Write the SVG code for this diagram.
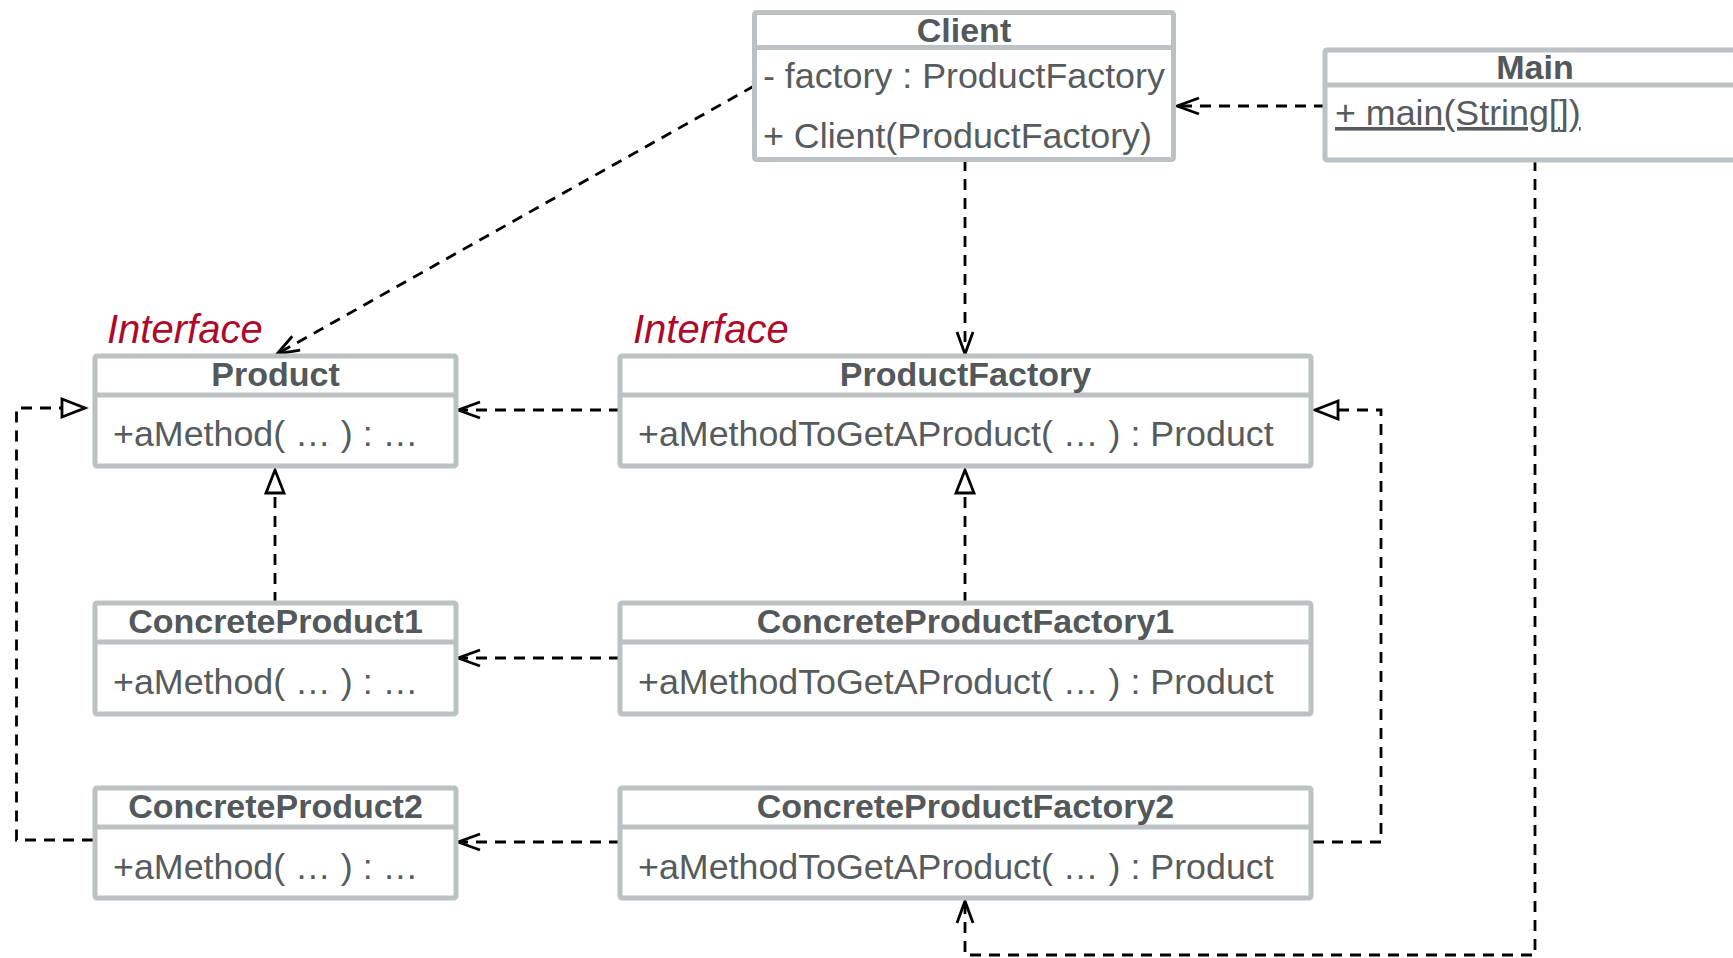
<svg xmlns="http://www.w3.org/2000/svg" width="1733" height="958" viewBox="0 0 1733 958">
<style>
.box{fill:#fff;stroke:#BCC1C3;stroke-width:5}
.div{stroke:#BCC1C3;stroke-width:5}
.name{font-family:"Liberation Sans",Arial,sans-serif;font-weight:bold;font-size:34px;fill:#53585A;text-anchor:middle}
.mem{font-family:"Liberation Sans",Arial,sans-serif;font-size:35.8px;fill:#565B5D}
.iface{font-family:"Liberation Sans",Arial,sans-serif;font-style:italic;font-size:40px;fill:#AD0A2B}
.con{fill:none;stroke:#000;stroke-width:2.8;stroke-dasharray:11 8}
</style>
<defs>
<marker id="open" markerUnits="userSpaceOnUse" viewBox="-26 -12 30 24" refX="0" refY="0" markerWidth="30" markerHeight="24" orient="auto">
<path d="M -22 -8 L 0 0 L -22 8" fill="none" stroke="#000" stroke-width="2.8"/>
</marker>
<marker id="tri" markerUnits="userSpaceOnUse" viewBox="-26 -12 30 24" refX="0" refY="0" markerWidth="30" markerHeight="24" orient="auto">
<path d="M -23 -9 L 0 0 L -23 9 Z" fill="#fff" stroke="#000" stroke-width="2.8"/>
</marker>
</defs>

<g id="connectors">
<path class="con" d="M 754 86 L 277 354" marker-end="url(#open)"/>
<path class="con" d="M 1325 106 L 1177 106" marker-end="url(#open)"/>
<path class="con" d="M 965 160 L 965 354" marker-end="url(#open)"/>
<path class="con" d="M 620 410 L 458 410" marker-end="url(#open)"/>
<path class="con" d="M 620 658 L 458 658" marker-end="url(#open)"/>
<path class="con" d="M 620 842 L 458 842" marker-end="url(#open)"/>
<path class="con" d="M 275 603 L 275 470" marker-end="url(#tri)"/>
<path class="con" d="M 965 603 L 965 470" marker-end="url(#tri)"/>
<path class="con" d="M 93 840 L 16.5 840 L 16.5 408 L 85 408" marker-end="url(#tri)"/>
<path class="con" d="M 1313 842 L 1381 842 L 1381 410 L 1315 410" marker-end="url(#tri)"/>
<path class="con" d="M 1535 160 L 1535 955 L 965 955 L 965 901" marker-end="url(#open)"/>
</g>

<g id="client">
<rect class="box" x="754.5" y="12.5" width="419" height="147" rx="2"/>
<line class="div" x1="754.5" y1="47.5" x2="1173.5" y2="47.5"/>
<text class="name" x="964" y="42">Client</text>
<text class="mem" x="763" y="88">- factory : ProductFactory</text>
<text class="mem" x="763" y="148">+ Client(ProductFactory)</text>
</g>

<g id="main">
<rect class="box" x="1325" y="50" width="420" height="110" rx="2"/>
<line class="div" x1="1325" y1="85" x2="1745" y2="85"/>
<text class="name" x="1535" y="79">Main</text>
<text class="mem" x="1335" y="125" text-decoration="underline">+ main(String[])</text>
</g>

<g id="product">
<text class="iface" x="107" y="343">Interface</text>
<rect class="box" x="95" y="356" width="361" height="110" rx="2"/>
<line class="div" x1="95" y1="395" x2="456" y2="395"/>
<text class="name" x="275.5" y="386">Product</text>
<text class="mem" x="113" y="446">+aMethod( … ) : …</text>
</g>

<g id="productfactory">
<text class="iface" x="633" y="343">Interface</text>
<rect class="box" x="620" y="356" width="691" height="110" rx="2"/>
<line class="div" x1="620" y1="395" x2="1311" y2="395"/>
<text class="name" x="965.5" y="386">ProductFactory</text>
<text class="mem" x="638" y="446">+aMethodToGetAProduct( … ) : Product</text>
</g>

<g id="concreteproduct1">
<rect class="box" x="95" y="603" width="361" height="111" rx="2"/>
<line class="div" x1="95" y1="642" x2="456" y2="642"/>
<text class="name" x="275.5" y="633">ConcreteProduct1</text>
<text class="mem" x="113" y="694">+aMethod( … ) : …</text>
</g>

<g id="concreteproductfactory1">
<rect class="box" x="620" y="603" width="691" height="111" rx="2"/>
<line class="div" x1="620" y1="642" x2="1311" y2="642"/>
<text class="name" x="965.5" y="633">ConcreteProductFactory1</text>
<text class="mem" x="638" y="694">+aMethodToGetAProduct( … ) : Product</text>
</g>

<g id="concreteproduct2">
<rect class="box" x="95" y="788" width="361" height="110" rx="2"/>
<line class="div" x1="95" y1="827" x2="456" y2="827"/>
<text class="name" x="275.5" y="818">ConcreteProduct2</text>
<text class="mem" x="113" y="879">+aMethod( … ) : …</text>
</g>

<g id="concreteproductfactory2">
<rect class="box" x="620" y="788" width="691" height="110" rx="2"/>
<line class="div" x1="620" y1="827" x2="1311" y2="827"/>
<text class="name" x="965.5" y="818">ConcreteProductFactory2</text>
<text class="mem" x="638" y="879">+aMethodToGetAProduct( … ) : Product</text>
</g>
</svg>
